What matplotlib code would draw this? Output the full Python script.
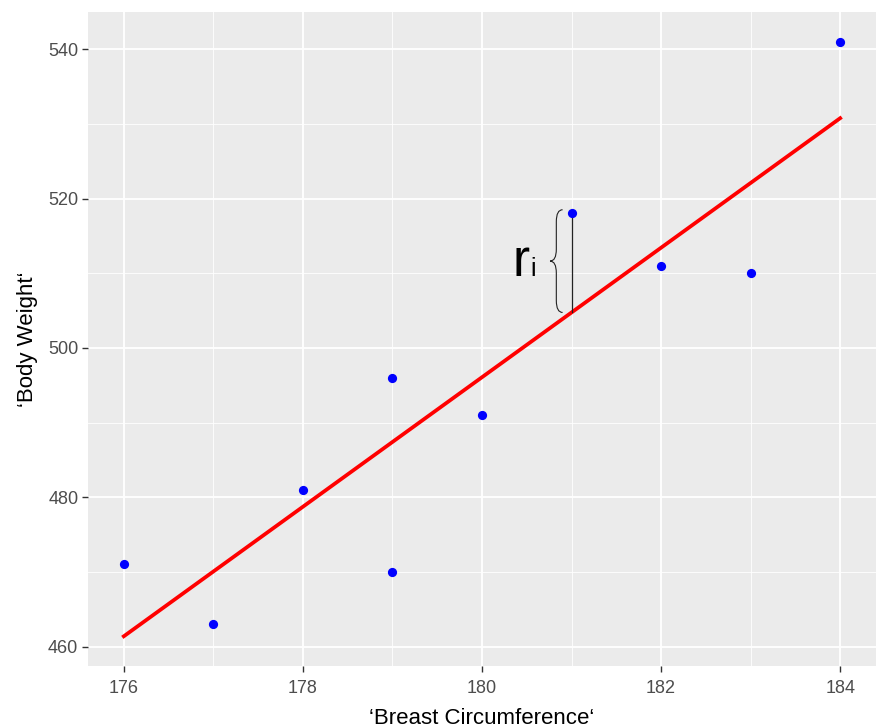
import numpy as np
import matplotlib.pyplot as plt
from matplotlib.path import Path
from matplotlib.patches import PathPatch

plt.rcParams['font.family'] = ['Liberation Sans', 'DejaVu Sans']

# data
breast = [176, 177, 178, 179, 179, 180, 181, 182, 183, 184]
weight = [471, 463, 481, 496, 470, 491, 518, 511, 510, 541]
x_ticks = [176, 178, 180, 182, 184]
y_ticks = [460, 480, 500, 520, 540]
resid_x = 181  # the point whose residual is marked

x = np.array(breast, dtype=float)
y = np.array(weight, dtype=float)
slope, icept = np.polyfit(x, y, 1)

fig = plt.figure(figsize=(8.77, 7.28), dpi=100)
ax = fig.add_axes([88 / 877, 62 / 728, 788 / 877, 654 / 728])
ax.set_facecolor('#EBEBEB')

# ggplot-like limits (5% expansion)
xr = x.max() - x.min()
ax.set_xlim(x.min() - 0.05 * xr, x.max() + 0.05 * xr)
lo = min(y.min(), icept + slope * x.min())
hi = max(y.max(), icept + slope * x.max())
ax.set_ylim(lo - 0.05 * (hi - lo), hi + 0.05 * (hi - lo))

ax.set_xticks(x_ticks)
ax.set_yticks(y_ticks)
ax.set_xticks([t + 1 for t in x_ticks[:-1]], minor=True)
ax.set_yticks([t + 10 for t in y_ticks[:-1]], minor=True)
ax.grid(which='major', color='white', lw=1.3)
ax.grid(which='minor', color='white', lw=0.6)
ax.set_axisbelow(True)
for s in ax.spines.values():
    s.set_visible(False)
ax.tick_params(which='major', length=4, width=1, color='#333333',
               labelcolor='#4D4D4D', labelsize=13, pad=3)
ax.tick_params(axis='x', which='major', pad=6)
ax.tick_params(which='minor', length=0)

# regression line
xl = np.array([x.min(), x.max()])
ax.plot(xl, icept + slope * xl, color='red', lw=2.7, zorder=3)

# residual segment
i = breast.index(resid_x)
yfit = icept + slope * x[i]
ax.plot([x[i], x[i]], [yfit, y[i]], color='#222222', lw=0.9, zorder=3)

ax.scatter(x, y, s=44, color='blue', zorder=4, linewidths=0)

# curly brace left of the residual
xs, xe, xt = x[i] - 0.17, x[i] - 0.10, x[i] - 0.24
y0, y1 = yfit, y[i] + 0.5
ym = (y0 + y1) / 2
r = 1.6
verts = [(xe, y1), (xs, y1), (xs, y1 - r),
         (xs, ym + r), (xs, ym), (xt, ym),
         (xs, ym), (xs, ym - r),
         (xs, y0 + r), (xs, y0), (xe, y0)]
codes = [Path.MOVETO, Path.CURVE3, Path.CURVE3,
         Path.LINETO, Path.CURVE3, Path.CURVE3,
         Path.CURVE3, Path.CURVE3,
         Path.LINETO, Path.CURVE3, Path.CURVE3]
ax.add_patch(PathPatch(Path(verts, codes), fill=False, lw=0.8,
                       edgecolor='#222222', zorder=3))

ax.text(180.53, 509.6, 'r', fontsize=37, ha='right', va='baseline')
ax.text(180.54, 509.6, 'i', fontsize=18, ha='left', va='baseline')

ax.set_xlabel('‘Breast Circumference‘', fontsize=16, labelpad=8)
ax.set_ylabel('‘Body Weight‘', fontsize=16, labelpad=7)

fig.savefig('out.png', dpi=100)
